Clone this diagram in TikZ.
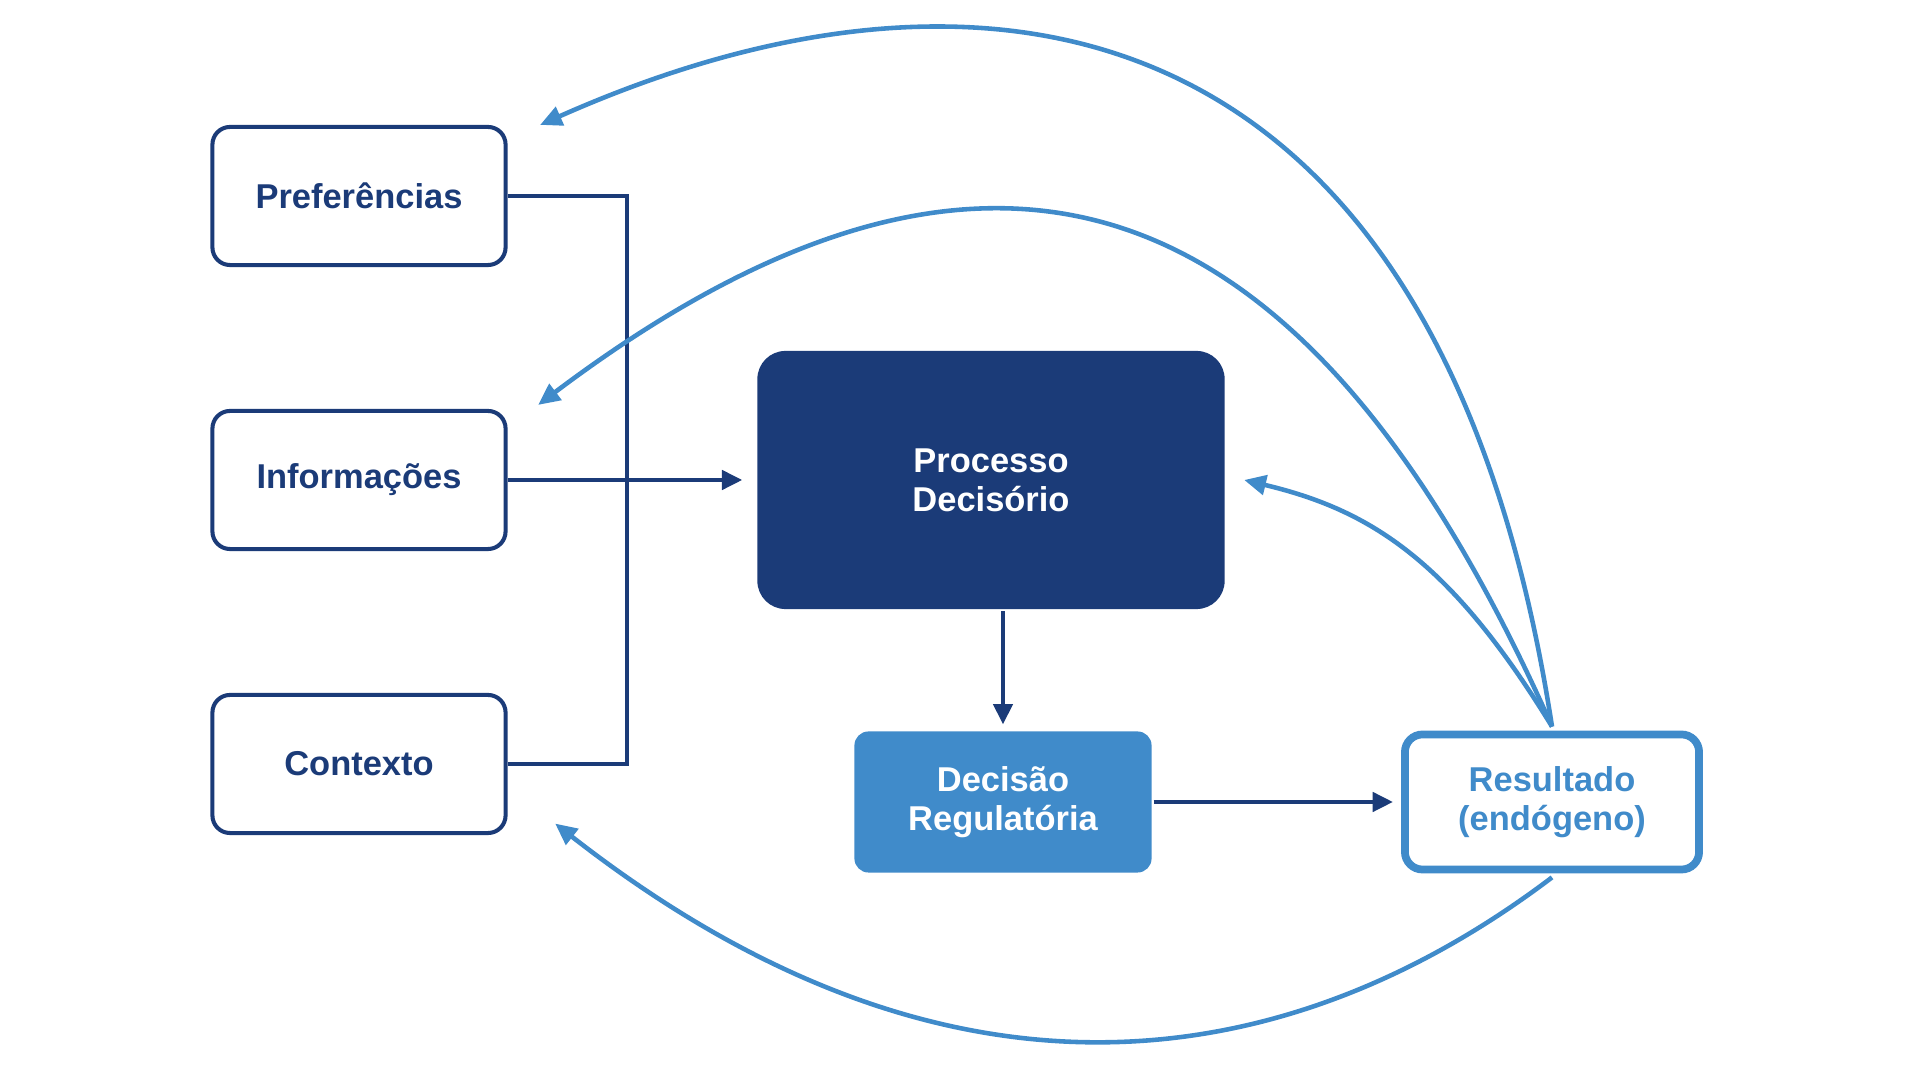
\documentclass[tikz,border=0pt]{standalone}
\usepackage{fontspec}
\setmainfont{Liberation Sans}
\usetikzlibrary{arrows.meta}
\definecolor{navy}{HTML}{1B3B78}
\definecolor{sky}{HTML}{408BCA}
\tikzset{
box/.style={draw=navy,fill=white,rounded corners=5pt,line width=1.15pt,minimum width=2.93cm,minimum height=1.38cm,inner sep=0pt,align=center,text=navy,font=\fontsize{9.8}{11}\selectfont\bfseries},
core/.style={box,draw=none,fill=navy,text=white,rounded corners=8pt,minimum width=4.67cm,minimum height=2.58cm},
act/.style={box,draw=none,fill=sky,text=white,rounded corners=4pt,minimum width=2.97cm,minimum height=1.41cm},
outcome/.style={box,draw=sky,text=sky,line width=2.2pt,minimum width=2.94cm,minimum height=1.35cm},
flow/.style={-{Triangle[length=5.8pt,width=5.4pt]},line width=1.3pt,draw=navy},
link/.style={line width=1.2pt,draw=navy},
loop/.style={-{Triangle[length=6.2pt,width=5.6pt]},line width=1.3pt,draw=sky}}
\begin{document}
\begin{tikzpicture}[x=0.01cm,y=-0.01cm]
\useasboundingbox (0,0) rectangle (1920,1080);
\node[box] (pref) at (359,196) {Preferências};
\node[box] (info) at (359,480) {Informações};
\node[box] (ctx) at (359,764) {Contexto};
\node[core] (proc) at (991,480) {Processo\\Decisório};
\node[act] (dec) at (1003,802) {Decisão\\Regulatória};
\node[outcome] (res) at (1552,802) {Resultado\\(endógeno)};
\coordinate (join) at (627,480);
\draw[link] (pref.east) -| (join) |- (ctx.east);
\draw[flow,shorten >=1.3mm] (info.east) -- (proc.west);
\draw[flow,shorten >=.5mm] (dec.north |- proc.south) -- (dec.north);
\draw[flow,shorten >=.8mm] (dec.east) -- (res.west);
\draw[loop] ([yshift=.4mm]res.north) .. controls (1440,0) and (990,-75) .. ([xshift=3.25mm]pref.north east);
\draw[loop] ([yshift=.4mm]res.north) .. controls (1321,207) and (1016,45) .. ([xshift=3.05mm,yshift=.4mm]info.north east);
\draw[loop] ([yshift=.4mm]res.north) .. controls (1450,560) and (1370,510) .. ([xshift=1.75mm]proc.east);
\draw[loop] ([yshift=-.4mm]res.south) .. controls (1315,1057) and (973,1150) .. ([xshift=4.75mm,yshift=1.15mm]ctx.south east);
\end{tikzpicture}
\end{document}
